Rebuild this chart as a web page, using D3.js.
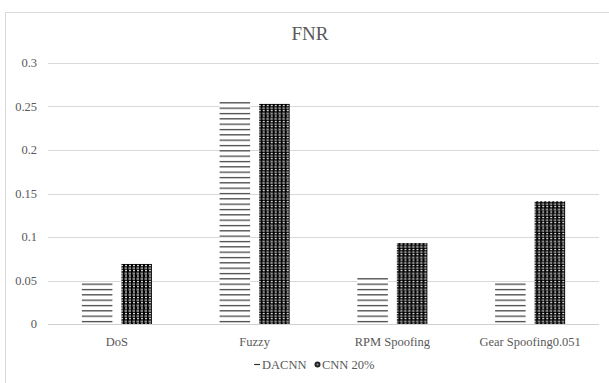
<!DOCTYPE html>
<html>
<head>
<meta charset="utf-8">
<script src="https://cdn.jsdelivr.net/npm/d3@7"></script>
<style>
  body { margin: 0; background: #fff; }
  text { font-family: "Liberation Serif", "Times New Roman", serif; fill: #595959; }
</style>
</head>
<body>
<svg id="chart" width="609" height="383"></svg>
<script>
// chart values
var categories = ["DoS", "Fuzzy", "RPM Spoofing", "Gear Spoofing0.051"];
var seriesNames = ["DACNN", "CNN 20%"];
var dacnn = [0.048, 0.257, 0.055, 0.048];
var cnn20 = [0.069, 0.253, 0.093, 0.141];
var yTicks = [0, 0.05, 0.1, 0.15, 0.2, 0.25, 0.3];

var svg = d3.select("#chart");

// outer chart frame (cut off at right and bottom like the picture)
svg.append("rect")
  .attr("x", 5.5).attr("y", 12.5)
  .attr("width", 640).attr("height", 420)
  .attr("fill", "#fff")
  .attr("stroke", "#d9d9d9");

// fill patterns
var defs = svg.append("defs");
var lines = defs.append("pattern")
  .attr("id", "pat-lines")
  .attr("patternUnits", "userSpaceOnUse")
  .attr("width", 8).attr("height", 16 / 3);
lines.append("rect").attr("width", 8).attr("height", 16 / 3).attr("fill", "#fff");
lines.append("rect").attr("y", 1).attr("width", 8).attr("height", 1.1).attr("fill", "#262626");

var dots = defs.append("pattern")
  .attr("id", "pat-dots")
  .attr("patternUnits", "userSpaceOnUse")
  .attr("width", 4).attr("height", 16 / 3);
dots.append("rect").attr("width", 4).attr("height", 16 / 3).attr("fill", "#000");
dots.append("rect").attr("x", 0.5).attr("y", 0.5).attr("width", 2.5).attr("height", 2).attr("fill", "#9a9a9a");
dots.append("rect").attr("x", 1).attr("y", 3.5).attr("width", 2).attr("height", 1.1).attr("fill", "#fff");

var fills = { "DACNN": "url(#pat-lines)", "CNN 20%": "url(#pat-dots)" };

// scales
var x0 = d3.scaleBand().domain(categories).range([48, 599]);
var x1 = d3.scaleBand().domain(seriesNames)
  .range([0, x0.bandwidth()])
  .paddingInner(0.228)
  .paddingOuter(0.857);
var y = d3.scaleLinear().domain([0, 0.3]).range([324, 63]);

// gridlines
svg.append("g")
  .selectAll("line")
  .data(yTicks)
  .enter().append("line")
  .attr("x1", 48).attr("x2", 599)
  .attr("y1", function(d) { return Math.round(y(d)) + 0.5; })
  .attr("y2", function(d) { return Math.round(y(d)) + 0.5; })
  .attr("stroke", "#d9d9d9");

// y labels
svg.append("g")
  .selectAll("text")
  .data(yTicks)
  .enter().append("text")
  .attr("x", 37)
  .attr("y", function(d) { return y(d) + 4; })
  .attr("text-anchor", "end")
  .attr("font-size", 12.5)
  .text(function(d) { return String(+d.toFixed(2)); });

// bars
var rows = categories.map(function(c, i) {
  return { cat: c, values: [
    { name: "DACNN", v: dacnn[i] },
    { name: "CNN 20%", v: cnn20[i] }
  ] };
});

var groups = svg.append("g")
  .selectAll("g")
  .data(rows)
  .enter().append("g")
  .attr("transform", function(d) { return "translate(" + x0(d.cat) + ",0)"; });

groups.selectAll("rect")
  .data(function(d) { return d.values; })
  .enter().append("rect")
  .attr("x", function(d) { return x1(d.name); })
  .attr("width", x1.bandwidth())
  .attr("y", function(d) { return y(d.v); })
  .attr("height", function(d) { return y(0) - y(d.v); })
  .attr("fill", function(d) { return fills[d.name]; });

// zero axis line
svg.append("line")
  .attr("x1", 48).attr("x2", 599)
  .attr("y1", Math.round(y(0)) + 0.5).attr("y2", Math.round(y(0)) + 0.5)
  .attr("stroke", "#d0d0d0");

// category labels
svg.append("g")
  .selectAll("text")
  .data(categories)
  .enter().append("text")
  .attr("x", function(d) { return x0(d) + x0.bandwidth() / 2; })
  .attr("y", 346)
  .attr("text-anchor", "middle")
  .attr("font-size", 12.5)
  .text(function(d) { return d; });

// title
svg.append("text")
  .attr("x", 310).attr("y", 40)
  .attr("text-anchor", "middle")
  .attr("font-size", 19)
  .text("FNR");

// legend
var legend = svg.append("g");
legend.append("line")
  .attr("x1", 254).attr("x2", 260)
  .attr("y1", 364.5).attr("y2", 364.5)
  .attr("stroke", "#333").attr("stroke-width", 1.2);
legend.append("text")
  .attr("x", 262).attr("y", 369)
  .attr("font-size", 12.5)
  .text(seriesNames[0]);
legend.append("circle")
  .attr("cx", 317.5).attr("cy", 364.5).attr("r", 3)
  .attr("fill", "#222");
legend.append("circle")
  .attr("cx", 317.5).attr("cy", 364.5).attr("r", 1)
  .attr("fill", "#999");
legend.append("text")
  .attr("x", 322).attr("y", 369)
  .attr("font-size", 12.5)
  .text(seriesNames[1]);
</script>
</body>
</html>
